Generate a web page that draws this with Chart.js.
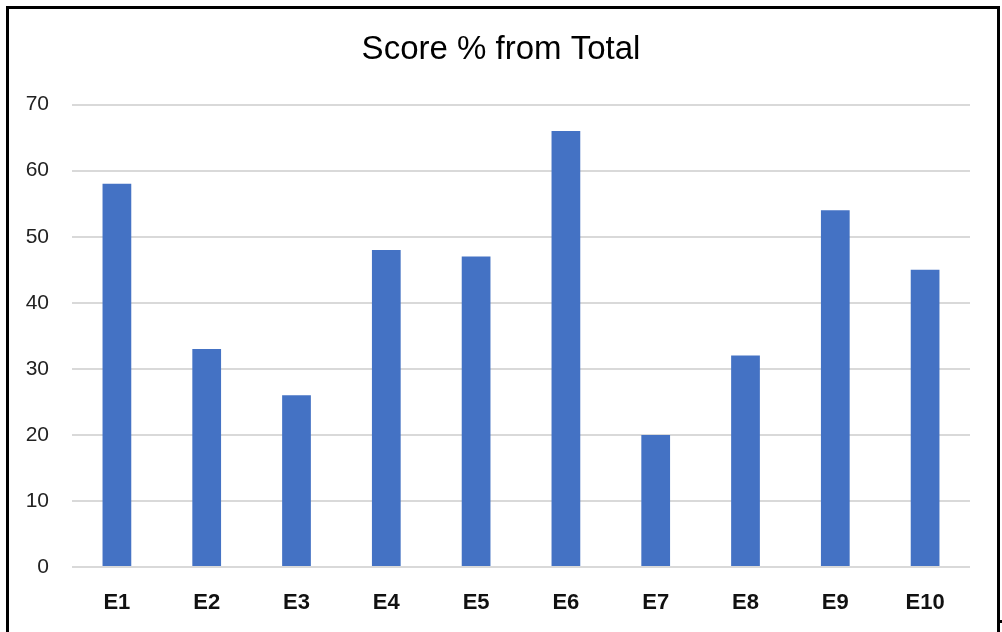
<!DOCTYPE html>
<html>
<head>
<meta charset="utf-8">
<script src="https://cdn.jsdelivr.net/npm/chart.js@4/dist/chart.umd.min.js"></script>
<style>
  html, body { margin: 0; padding: 0; background: #fff; }
  body { width: 1002px; height: 632px; position: relative; overflow: hidden; }
  #frame { position: absolute; left: 6px; top: 6px; width: 994px; height: 700px; border: 3px solid #000; box-sizing: border-box; }
  #mark { position: absolute; left: 1000px; top: 620px; width: 2px; height: 3px; background: #000; }
  #wrap { position: absolute; left: 0; top: 0; width: 1002px; height: 632px; }
</style>
</head>
<body>
<div id="frame"></div>
<div id="mark"></div>
<div id="wrap"><canvas id="c" width="1002" height="632"></canvas></div>
<script>
const categories = ['E1', 'E2', 'E3', 'E4', 'E5', 'E6', 'E7', 'E8', 'E9', 'E10'];
const scores = [58, 33, 26, 48, 47, 66, 20, 32, 54, 45];
const yTicks = [0, 10, 20, 30, 40, 50, 60, 70];

const fontFamily = "'Liberation Sans', Arial, sans-serif";

new Chart(document.getElementById('c'), {
  type: 'bar',
  data: {
    labels: categories,
    datasets: [{
      data: scores,
      backgroundColor: '#4472C4',
      borderWidth: 0,
      categoryPercentage: 1,
      barPercentage: 0.32
    }]
  },
  options: {
    responsive: false,
    animation: false,
    layout: { padding: { left: 0, right: 0, top: 0, bottom: 0 } },
    plugins: {
      legend: { display: false },
      tooltip: { enabled: false },
      title: {
        display: true,
        text: 'Score % from Total',
        color: '#000',
        font: { family: fontFamily, size: 33, weight: 'normal' },
        padding: { top: 30, bottom: 35 }
      }
    },
    scales: {
      x: {
        afterFit: (scale) => { scale.height = 65; },
        grid: { display: false, drawTicks: false },
        border: { display: false },
        ticks: {
          color: '#111',
          padding: 23,
          font: { family: fontFamily, size: 22, weight: 'bold' }
        }
      },
      y: {
        min: 0,
        max: 70,
        afterFit: (scale) => { scale.width = 72; },
        afterBuildTicks: (scale) => { scale.ticks = yTicks.map(v => ({ value: v })); },
        grid: { color: '#d9d9d9', lineWidth: 2, drawTicks: false },
        border: { display: false },
        ticks: {
          color: '#222',
          padding: 23,
          font: { family: fontFamily, size: 21 }
        }
      },
      // empty right-hand margin beside the plot
      yRight: {
        position: 'right',
        min: 0,
        max: 70,
        afterFit: (scale) => { scale.width = 32; },
        grid: { display: false, drawTicks: false },
        border: { display: false },
        ticks: { display: false }
      }
    }
  }
});
</script>
</body>
</html>
